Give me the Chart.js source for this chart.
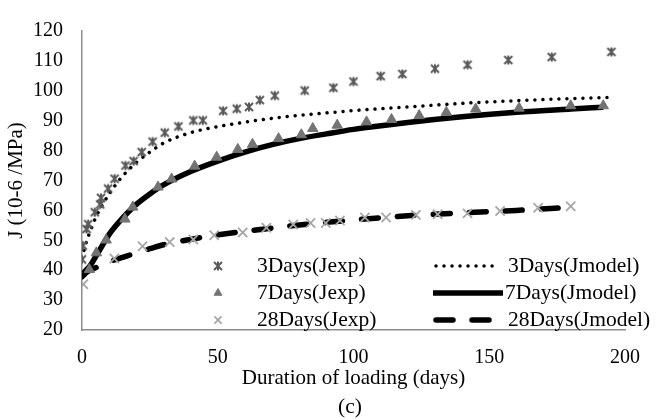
<!DOCTYPE html>
<html lang="en">
<head>
<meta charset="UTF-8">
<title>Creep compliance (c)</title>
<script src="https://cdn.jsdelivr.net/npm/chart.js"></script>
<style>
  html, body { margin: 0; padding: 0; background: #ffffff; }
  #wrap { width: 656px; height: 419px; }
</style>
</head>
<body>
<div id="wrap"><canvas id="creepChart" width="656" height="419"></canvas></div>
<script>
// measured points (days, J)
const days3Exp = [0, 0.3, 1.7, 2.3, 4.7, 6.7, 7, 9.6, 12, 16, 19, 22, 26, 30.5, 35.5, 41, 44.5, 52, 57, 61.5, 65.5, 71, 82, 92.6, 100, 110, 118, 130, 142, 157, 173, 195];
const j3Exp = [43.6, 48.2, 53.8, 55.4, 59.4, 62, 64.2, 67.3, 70.6, 75, 76.5, 79.5, 83, 86, 88.1, 90.1, 90.1, 93.3, 94, 94.6, 96.9, 98.4, 100.1, 101, 103.1, 104.9, 105.6, 107.4, 108.7, 110.3, 111.3, 113];

const days7Exp = [2.7, 5.3, 8.9, 15.8, 18.7, 28, 33, 41.5, 49.6, 57.4, 62.8, 72.4, 80.8, 85, 94, 104.8, 114, 124.2, 134.2, 145, 161, 180, 192];
const j7Exp = [40.2, 45.8, 50.1, 57.1, 61.1, 67.8, 70.5, 74.8, 77.8, 80.4, 82.1, 84, 85.3, 87.4, 88.5, 89.6, 90.4, 91.7, 92.8, 93.9, 94.2, 95, 95];

const days28Exp = [0.5, 11.9, 22.3, 32.3, 41, 48.7, 59.2, 67.9, 77.8, 84.2, 89.8, 95, 104.2, 112, 123, 131, 142, 154, 168, 180];
const j28Exp = [35.3, 43.9, 48, 49.4, 50.3, 51.7, 52.6, 54.2, 55.3, 55.8, 55.8, 56.6, 57.6, 57.6, 58.5, 58.7, 59, 59.8, 60.9, 61.4];

// model curves
const days3Model = [0, 1, 2, 3, 5, 7, 10, 15, 20, 25, 30, 40, 50, 60, 70, 80, 90, 100, 120, 140, 160, 180, 195];
const j3Model = [44, 47.5, 50.5, 53, 57.5, 61, 65.5, 71.5, 76, 79.5, 82.5, 86, 88, 89.5, 90.8, 91.8, 92.6, 93.4, 94.6, 95.8, 96.7, 97.4, 97.8];

const days7Model = [0, 1, 3, 5, 7, 10, 15, 20, 25, 30, 40, 50, 60, 70, 80, 90, 100, 120, 140, 160, 180, 192];
const j7Model = [38, 39.5, 41.5, 44.5, 47.5, 52, 57.5, 62, 65.5, 68.5, 73, 76.5, 79.5, 82, 84, 85.6, 87.1, 89.4, 91.3, 92.8, 93.9, 94.5];

const days28Model = [0, 2, 5, 10, 15, 20, 25, 30, 40, 50, 60, 70, 80, 90, 100, 120, 140, 160, 179];
const j28Model = [37.8, 39.5, 40.8, 42.8, 44.3, 45.8, 47.2, 48.5, 50.3, 51.8, 53, 54.1, 55.1, 56, 56.8, 58.2, 59.2, 60, 61];

const xTicks = [0, 50, 100, 150, 200];
const yTicks = [20, 30, 40, 50, 60, 70, 80, 90, 100, 110, 120];

const FONT = 'Liberation Serif, Times New Roman, serif';
const pts = (xs, ys) => xs.map((x, i) => ({ x: x, y: ys[i] }));

// excel-like star marker (x with a vertical bar)
function starMarker() {
    const c = document.createElement('canvas');
    c.width = 12; c.height = 12;
    const g = c.getContext('2d');
    g.strokeStyle = '#595959';
    g.lineWidth = 2;
    g.beginPath();
    g.moveTo(2, 2); g.lineTo(10, 10);
    g.moveTo(10, 2); g.lineTo(2, 10);
    g.moveTo(6, 1.5); g.lineTo(6, 10.5);
    g.stroke();
    return c;
}
const star = starMarker();

const datasets = [
    { label: '3Days(Jexp)', data: pts(days3Exp, j3Exp), pointStyle: star, pointRadius: 6, showLine: false },
    { label: '7Days(Jexp)', data: pts(days7Exp, j7Exp), pointStyle: 'triangle', pointRadius: 6,
      backgroundColor: '#737373', borderColor: '#737373', pointBorderWidth: 1, showLine: false },
    { label: '28Days(Jexp)', data: pts(days28Exp, j28Exp), pointStyle: 'crossRot', pointRadius: 6.5,
      borderColor: '#a6a6a6', backgroundColor: '#a6a6a6', pointBorderWidth: 1.8, showLine: false },
    { label: '3Days(Jmodel)', data: pts(days3Model, j3Model), showLine: true, pointRadius: 0,
      borderColor: '#000', borderWidth: 3.5, borderDash: [0.01, 8], borderCapStyle: 'round', cubicInterpolationMode: 'monotone' },
    { label: '7Days(Jmodel)', data: pts(days7Model, j7Model), showLine: true, pointRadius: 0,
      borderColor: '#000', borderWidth: 5.5, cubicInterpolationMode: 'monotone' },
    { label: '28Days(Jmodel)', data: pts(days28Model, j28Model), showLine: true, pointRadius: 0,
      borderColor: '#000', borderWidth: 5.5, borderDash: [17, 19], borderCapStyle: 'round', cubicInterpolationMode: 'monotone' }
];

// legend drawn inside the plot, two columns
const legendPlugin = {
    id: 'insideLegend',
    afterDraw(chart) {
        const ctx = chart.ctx;
        const rows = [266, 293, 320];
        ctx.save();
        ctx.font = '21.5px ' + FONT;
        ctx.fillStyle = '#000';
        ctx.textBaseline = 'middle';
        for (let i = 0; i < 3; i++) {
            const ds = chart.data.datasets[i];
            ctx.fillStyle = ds.backgroundColor || '#595959';
            ctx.strokeStyle = ds.borderColor || '#595959';
            ctx.lineWidth = ds.pointBorderWidth || 1;
            Chart.helpers.drawPoint(ctx, { pointStyle: ds.pointStyle, radius: ds.pointRadius - 1.5, rotation: 0, borderWidth: ds.pointBorderWidth || 1 }, 218, rows[i]);
            ctx.fillStyle = '#000';
            ctx.fillText(ds.label, 257, rows[i]);
        }
        for (let i = 0; i < 3; i++) {
            const ds = chart.data.datasets[i + 3];
            ctx.strokeStyle = '#000';
            ctx.lineWidth = ds.borderWidth;
            ctx.lineCap = ds.borderCapStyle || 'butt';
            ctx.setLineDash(ds.borderDash || []);
            ctx.beginPath();
            ctx.moveTo(i === 1 ? 433 : 436, rows[i]);
            ctx.lineTo(i === 1 ? 503 : 500, rows[i]);
            ctx.stroke();
            ctx.setLineDash([]);
            ctx.fillStyle = '#000';
            ctx.fillText(ds.label, i === 1 ? 505 : 508, rows[i]);
        }
        ctx.textAlign = 'center';
        ctx.fillText('(c)', 350, 407);
        ctx.restore();
    }
};

new Chart(document.getElementById('creepChart').getContext('2d'), {
    type: 'scatter',
    data: { datasets: datasets },
    options: {
        responsive: false,
        animation: false,
        layout: { padding: { left: 0, right: 18, top: 20, bottom: 0 } },
        plugins: { legend: { display: false }, tooltip: { enabled: false } },
        scales: {
            x: {
                type: 'linear', min: 0, max: 200,
                afterBuildTicks: s => { s.ticks = xTicks.map(v => ({ value: v })); },
                afterFit: s => { s.height = 89; },
                grid: { display: false, drawTicks: false },
                border: { color: '#8c8c8c', width: 1.5 },
                ticks: { color: '#000', font: { family: FONT, size: 20 }, padding: 16, maxRotation: 0 },
                title: { display: true, text: 'Duration of loading (days)', color: '#000',
                         font: { family: FONT, size: 21 }, padding: { top: 0, bottom: 28 } }
            },
            y: {
                type: 'linear', min: 20, max: 120,
                afterBuildTicks: s => { s.ticks = yTicks.map(v => ({ value: v })); },
                afterFit: s => { s.width = 82; },
                grid: { display: false, drawTicks: false },
                border: { color: '#8c8c8c', width: 1.5 },
                ticks: { color: '#000', font: { family: FONT, size: 20 }, padding: 19 },
                title: { display: true, text: 'J (10-6 /MPa)', color: '#000',
                         font: { family: FONT, size: 21 }, padding: { top: 4, bottom: 0 } }
            }
        }
    },
    plugins: [legendPlugin]
});
</script>
</body>
</html>
